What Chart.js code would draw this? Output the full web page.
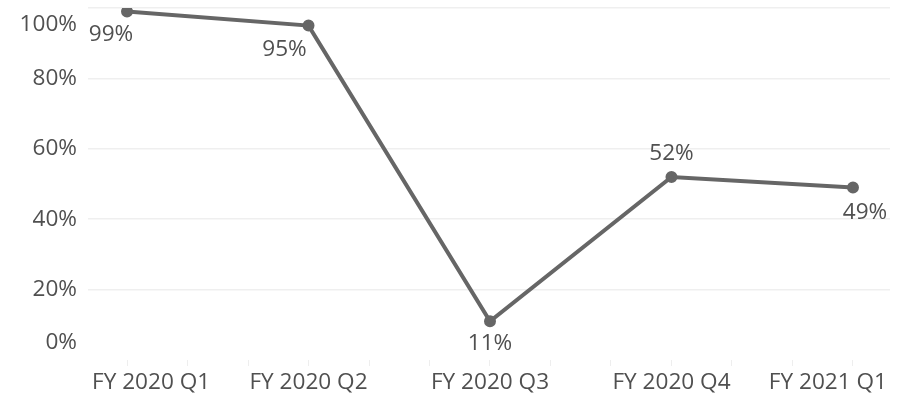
<!DOCTYPE html>
<html>
<head>
<meta charset="utf-8">
<script src="https://cdn.jsdelivr.net/npm/chart.js@4"></script>
<style>
  html, body { margin: 0; padding: 0; background: #fff; }
  #wrap { width: 904px; height: 403px; }
</style>
</head>
<body>
<div id="wrap"><canvas id="rateChart"></canvas></div>
<script>
// data
const quarters = ['FY 2020 Q1', 'FY 2020 Q2', 'FY 2020 Q3', 'FY 2020 Q4', 'FY 2021 Q1'];
const rates = [99, 95, 11, 52, 49];
const yTicks = [0, 20, 40, 60, 80, 100];

const textColor = '#505050';
const fontFamily = '"Open Sans", sans-serif';

// where each value label sits relative to its point
const labelOffsets = [[-16, 23], [-24, 24], [0, 22], [0, -23], [12, 25]];

const labelPlugin = {
    id: 'labels',
    afterDraw(chart) {
        const c = chart.ctx;
        const x = chart.scales.x;
        const y = chart.scales.y;
        const area = chart.chartArea;
        c.save();
        c.font = '22.6px ' + fontFamily;
        c.fillStyle = textColor;
        c.textBaseline = 'middle';
        // y tick labels, first and last pulled inward
        c.textAlign = 'right';
        yTicks.forEach(function(v) {
            let py = y.getPixelForValue(v);
            if (v === 100) py += 17;
            if (v === 0) py -= 17;
            c.fillText(v + '%', 77, py);
        });
        // category labels, kept inside the plot width
        c.textAlign = 'left';
        quarters.forEach(function(q, i) {
            const w = c.measureText(q).width;
            let left = x.getPixelForValue(i) - w / 2;
            left = Math.max(left, area.left + 4);
            left = Math.min(left, area.right - 3 - w);
            c.fillText(q, left, x.top + 23);
        });
        // value labels
        c.textAlign = 'center';
        chart.getDatasetMeta(0).data.forEach(function(pt, i) {
            const o = labelOffsets[i];
            c.fillText(rates[i] + '%', pt.x + o[0], pt.y + o[1]);
        });
        c.restore();
    }
};

const ctx = document.getElementById('rateChart').getContext('2d');
const rateChart = new Chart(ctx, {
    type: 'line',
    data: {
        datasets: [{
            data: rates.map(function(v, i) { return { x: i, y: v }; }),
            borderColor: '#666',
            backgroundColor: '#666',
            borderWidth: 4,
            pointRadius: 4,
            pointHoverRadius: 4,
            tension: 0
        }]
    },
    options: {
        responsive: true,
        maintainAspectRatio: false,
        animation: false,
        layout: { padding: { left: 88, right: 14, top: 5, bottom: 0 } },
        scales: {
            x: {
                type: 'linear',
                min: -0.215,
                max: 4.204,
                afterBuildTicks: function(scale) {
                    const t = [];
                    for (let k = 0; k <= 12; k++) t.push({ value: k / 3 });
                    scale.ticks = t;
                },
                afterFit: function(scale) {
                    scale.height = 43;
                    scale.paddingLeft = 0;
                    scale.paddingRight = 0;
                },
                border: { display: false },
                grid: {
                    drawOnChartArea: false,
                    drawTicks: true,
                    tickLength: 6,
                    color: '#eee'
                },
                ticks: {
                    autoSkip: false,
                    maxRotation: 0,
                    callback: function() { return ''; }
                }
            },
            y: {
                min: 0,
                max: 100,
                afterBuildTicks: function(scale) {
                    scale.ticks = yTicks.map(function(v) { return { value: v }; });
                },
                border: { display: false },
                grid: {
                    color: function(c) { return c.tick.value === 0 ? 'rgba(0,0,0,0)' : '#efefef'; },
                    lineWidth: 1.5,
                    drawTicks: false
                },
                ticks: { display: false }
            }
        },
        plugins: {
            legend: { display: false },
            tooltip: { enabled: false }
        }
    },
    plugins: [labelPlugin]
});
</script>
</body>
</html>
